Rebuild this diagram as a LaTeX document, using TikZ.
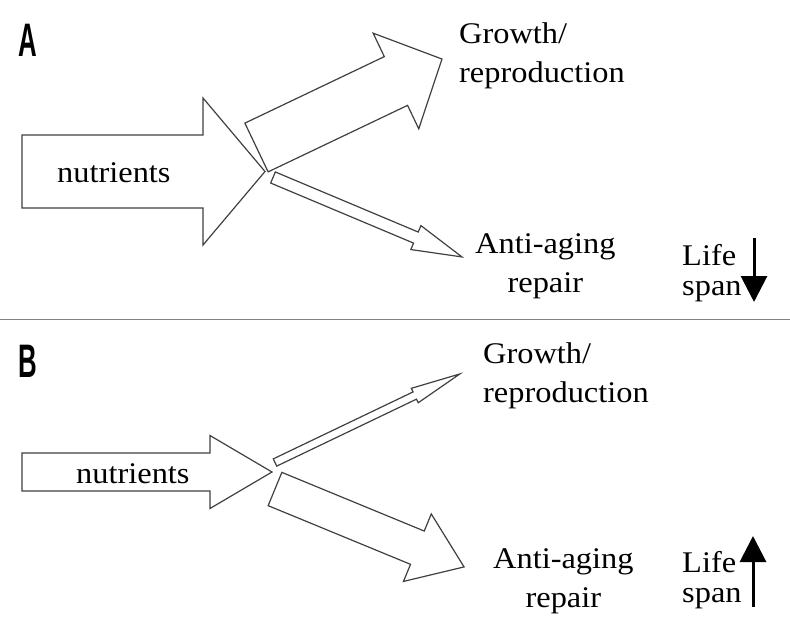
\documentclass[tikz,border=0pt]{standalone}
\usepackage{fontspec}
\setmainfont[FakeStretch=1.08]{Liberation Serif}
\newfontfamily\panelfont[FakeStretch=0.55]{Liberation Sans}
\usetikzlibrary{arrows.meta}

% block arrow drawn along its own x axis: length/shaft half width/head half width/head length
\tikzset{
  pics/fat arrow/.style args={#1/#2/#3/#4}{code={
    \draw[arrow outline] (0,#2) -- ({#1-#4},#2) -- ({#1-#4},#3) -- (#1,0)
      -- ({#1-#4},-#3) -- ({#1-#4},-#2) -- (0,-#2) -- cycle;
  }}
}

\begin{document}
\begin{tikzpicture}[x=1pt, y=-1pt,
  % Define styles for the arrows and the texts
  arrow outline/.style={draw=black!75, line width=1.2pt, fill=white},
  label text/.style={anchor=base west, inner sep=0pt, font=\fontsize{30}{38.5}\selectfont},
  life span/.style={anchor=base west, inner sep=0pt, align=left, font=\fontsize{30}{30}\selectfont},
  panel label/.style={anchor=base west, inner sep=0pt, font=\panelfont\bfseries\fontsize{47}{47}\selectfont},
  span arrow/.style={line width=3pt, -{Triangle[length=26pt, width=26pt]}}
  ]
  \useasboundingbox (0,0) rectangle (790,632);

  % --- Panel A ---
  \node[panel label] (panelA) at (18,56) {A};
  \pic at (22,171.5) {fat arrow={243/36.5/73.5/62}};
  \pic[rotate=25.5] at (256.5,147.5) {fat arrow={205.5/27/53/51}};
  \pic[rotate=-22.8] at (273,177.5) {fat arrow={205/6/13/50}};
  \node[label text] (nutrA) at (57,182) {nutrients};
  % multi-line texts sit on the baseline of their last line
  \node[label text, align=left] (growA) at (459,82) {Growth/\\reproduction};
  \node[label text, align=center] (repairA) at (475,292) {Anti-aging\\repair};
  \node[life span] (lifeA) at (682,295) {Life\\span};
  \coordinate (lsAtop) at (754,238);
  \coordinate (lsAbot) at (754,302);
  \draw[span arrow] (lsAtop) -- (lsAbot);

  % --- separator ---
  \coordinate (sepL) at (0,319.5);
  \coordinate (sepR) at (790,319.5);
  \draw[black!50, line width=1.5pt] (sepL) -- (sepR);

  % --- Panel B ---
  \node[panel label] (panelB) at (18,377) {B};
  \pic at (22,472) {fat arrow={250/19/36.5/62}};
  \pic[rotate=25.6] at (275,462.5) {fat arrow={205/4/8/50}};
  \pic[rotate=-22.4] at (275,489) {fat arrow={204.5/18/36.5/50.5}};
  \node[label text] (nutrB) at (76,483) {nutrients};
  \node[label text, align=left] (growB) at (483,402) {Growth/\\reproduction};
  \node[label text, align=center] (repairB) at (493,607) {Anti-aging\\repair};
  \node[life span] (lifeB) at (682,602) {Life\\span};
  \coordinate (lsBbot) at (753,607);
  \coordinate (lsBtop) at (753,536);
  \draw[span arrow] (lsBbot) -- (lsBtop);
\end{tikzpicture}
\end{document}
